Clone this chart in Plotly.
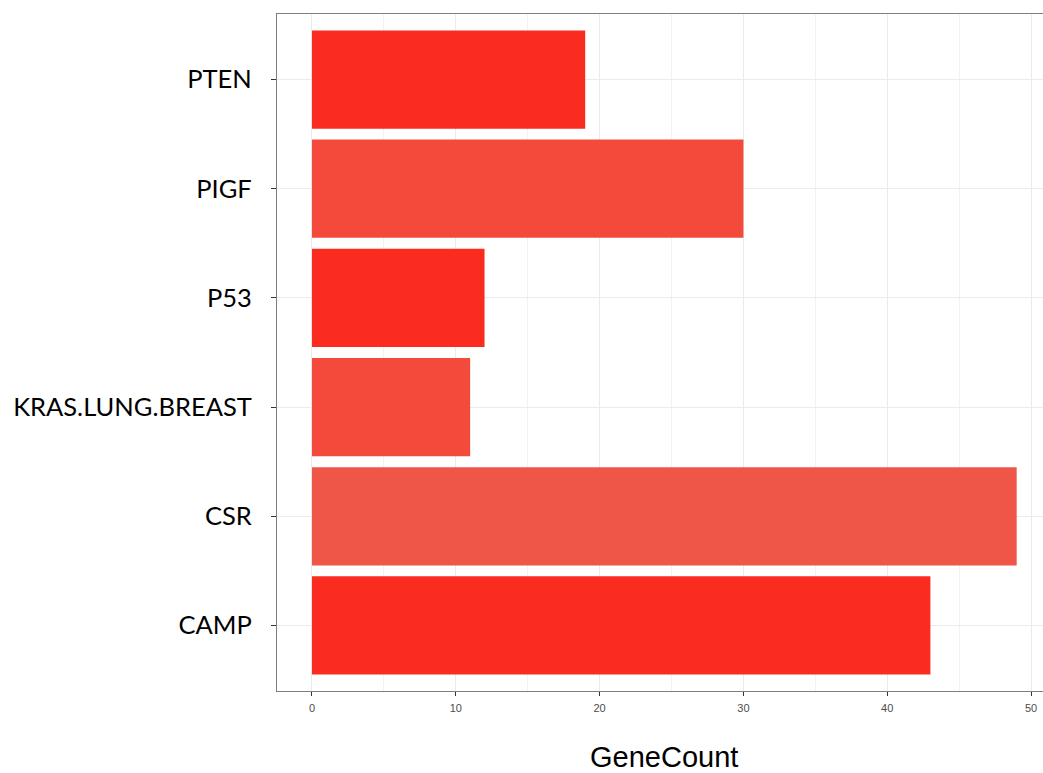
import plotly.graph_objects as go

categories = ["CAMP", "CSR", "KRAS.LUNG.BREAST", "P53", "PIGF", "PTEN"]
gene_counts = [43, 49, 11, 12, 30, 19]
bar_colors = ["#FA2C20", "#F05647", "#F44A3B", "#FA2C20", "#F44A3B", "#FA2C20"]
x_ticks = [0, 10, 20, 30, 40, 50]

fig = go.Figure()
fig.add_trace(go.Bar(
    y=categories, x=gene_counts, orientation="h",
    marker=dict(color=bar_colors, line=dict(width=0)),
    width=0.9, showlegend=False,
))

fig.update_layout(
    width=1043, height=773,
    margin=dict(l=277, r=0, t=14, b=82),
    paper_bgcolor="white", plot_bgcolor="white",
    xaxis=dict(
        range=[-2.43, 50.83],
        tickvals=x_ticks, ticktext=[str(v) for v in x_ticks],
        tickfont=dict(family="Liberation Sans, Arial", size=11, color="#4D4D4D"),
        ticks="outside", ticklen=4, tickcolor="#333333", tickwidth=1,
        ticklabelstandoff=3,
        showgrid=True, gridcolor="#EBEBEB", gridwidth=1,
        minor=dict(tickvals=[5, 15, 25, 35, 45], showgrid=True, gridcolor="#F2F2F2", gridwidth=1, ticks=""),
        showline=True, linecolor="#7F7F7F", linewidth=1.2, mirror=True,
        zeroline=False, fixedrange=True,
    ),
    yaxis=dict(
        categoryorder="array", categoryarray=categories,
        range=[-0.6, 5.6],
        tickfont=dict(family="Lato, Open Sans, sans-serif", size=25.5, color="#000000"),
        ticks="outside", ticklen=5, tickcolor="#333333", tickwidth=1,
        ticklabelstandoff=14,
        showgrid=True, gridcolor="#EBEBEB", gridwidth=1,
        showline=True, linecolor="#7F7F7F", linewidth=1.2, mirror=False,
        zeroline=False,
    ),
    annotations=[dict(
        text="GeneCount", x=24.5, xref="x", y=-0.097, yref="paper",
        showarrow=False, xanchor="center", yanchor="middle",
        font=dict(family="Liberation Sans, Arial", size=29, color="#000000"),
    )],
)

fig.write_html(
    "out.html",
    config={"displayModeBar": False},
    post_script="document.body.style.margin='0';document.body.style.overflow='hidden';",
)
